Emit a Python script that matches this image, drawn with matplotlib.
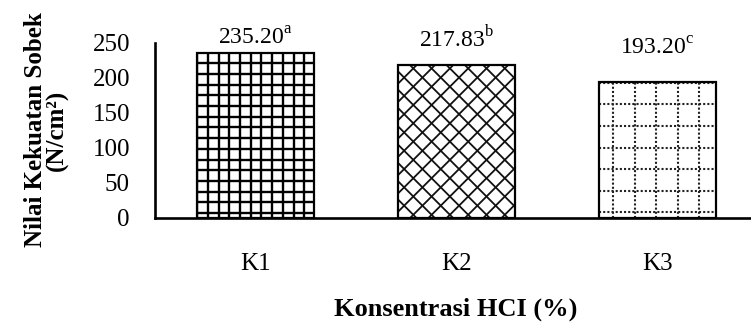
import numpy as np
import matplotlib.pyplot as plt

categories = ['K1', 'K2', 'K3']
values = [235.20, 217.83, 193.20]
letters = ['a', 'b', 'c']
yticks = [0, 50, 100, 150, 200, 250]

# label lift above each bar top, in points
label_lift = [6, 13, 20]

plt.rcParams['font.family'] = 'Liberation Serif'
plt.rcParams['mathtext.fontset'] = 'custom'
plt.rcParams['mathtext.rm'] = 'Liberation Serif'

W, H = 751, 323
fig = plt.figure(figsize=(W / 100, H / 100), dpi=100)
ax = fig.add_axes([155 / W, 1 - 218 / H, 603 / W, (218 - 42.6) / H])

x = np.arange(len(categories))
bars = ax.bar(x, values, width=0.58, facecolor='none', edgecolor='black',
              linewidth=1.6, zorder=3)
ax.set_xlim(-0.5, 2.5)
ax.set_ylim(0, 250)
ax.set_xticks(x)
ax.set_xticklabels(categories)
ax.set_yticks(yticks)
ax.tick_params(length=0, labelsize=18)
ax.tick_params(axis='y', pad=18)
ax.tick_params(axis='x', pad=25)
for side in ('top', 'right'):
    ax.spines[side].set_visible(False)
for side in ('left', 'bottom'):
    ax.spines[side].set_linewidth(1.9)


def pixel_box(bar):
    (x0, y0), (x1, y1) = ax.transData.transform(
        [(bar.get_x(), bar.get_y()),
         (bar.get_x() + bar.get_width(), bar.get_y() + bar.get_height())])
    return x0, y0, x1, y1


def draw_segments(bar, segs, **kw):
    inv = ax.transData.inverted()
    for p, q in segs:
        (xa, ya), (xb, yb) = inv.transform([p, q])
        ln, = ax.plot([xa, xb], [ya, yb], zorder=2, solid_capstyle='butt', **kw)
        ln.set_clip_path(bar)


def square_grid(bar, step, off_x, off_y, **kw):
    x0, y0, x1, y1 = pixel_box(bar)
    segs = []
    for gx in np.arange(x0 + off_x, x1, step):
        segs.append(((gx, y0), (gx, y1)))
    for gy in np.arange(y0 + off_y, y1, step):
        segs.append(((x0, gy), (x1, gy)))
    draw_segments(bar, segs, **kw)


def diagonal_grid(bar, step, **kw):
    x0, y0, x1, y1 = pixel_box(bar)
    h = y1 - y0
    segs = []
    for c in np.arange(x0 - h, x1 + step, step):
        segs.append(((c, y0), (c + h, y1)))
        segs.append(((c + h, y0), (c, y1)))
    draw_segments(bar, segs, **kw)


# K1: dense solid square grid
square_grid(bars[0], 10.7, 0, 5, color='black', linewidth=1.7)
# K2: diagonal lattice
diagonal_grid(bars[1], 18.3, color='#111111', linewidth=1.3)
# K3: dotted square grid
square_grid(bars[2], 21.5, 14, 6, color='#222222', linewidth=1.5,
            linestyle=(0, (1, 1)))

for bar, v, s, lift in zip(bars, values, letters, label_lift):
    ax.annotate(f'{v:.2f}$^{{\\rm {s}}}$',
                (bar.get_x() + bar.get_width() / 2, v),
                xytext=(0, lift), textcoords='offset points',
                ha='center', va='baseline', fontsize=17)

fig.text(46 / W, 1 - 130 / H, 'Nilai Kekuatan Sobek\n(N/cm²)', rotation=90,
         ha='center', va='center', multialignment='center',
         fontsize=18, fontweight='bold', linespacing=0.92)
fig.text(456 / W, 1 - 309 / H, 'Konsentrasi HCI (%)', ha='center', va='center',
         fontsize=19, fontweight='bold')

fig.savefig('out.png', dpi=100)
